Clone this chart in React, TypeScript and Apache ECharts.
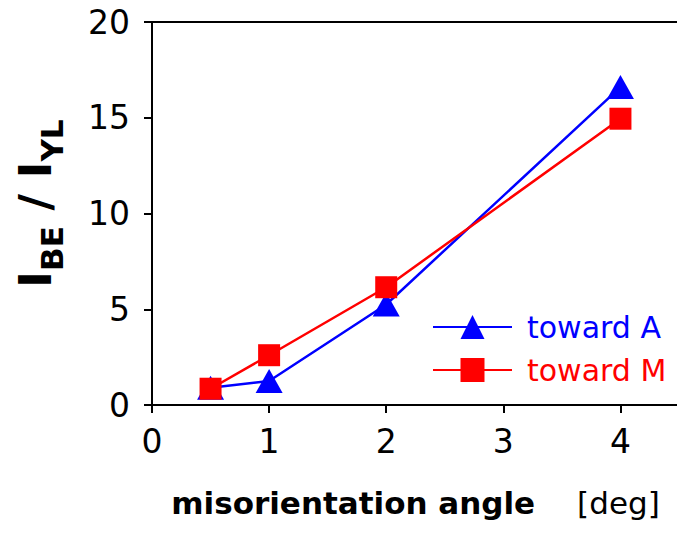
import React, { useEffect, useRef } from "react";
import * as echarts from "echarts";

const xAngles = [0.5, 1, 2, 4];
const towardA = [0.9, 1.25, 5.25, 16.6];
const towardM = [0.85, 2.6, 6.15, 14.95];
const seriesNames = ["toward A", "toward M"];

const FONT = "DejaVu Sans";

export default function App() {
  const ref = useRef<HTMLDivElement>(null);
  useEffect(() => {
    if (!ref.current) return;
    const chart = echarts.init(ref.current, null, { renderer: "svg" });
    chart.setOption({
      animation: false,
      backgroundColor: "#fff",
      grid: {
        left: 152,
        top: 22,
        bottom: 128,
        width: 527,
        outerBoundsMode: "none",
        containLabel: false,
        show: true,
        borderColor: "#000",
        borderWidth: 2,
        backgroundColor: "transparent",
      },
      xAxis: {
        type: "value",
        min: 0,
        max: 4.5,
        interval: 1,
        splitLine: { show: false },
        axisLine: { lineStyle: { color: "#000", width: 2 } },
        axisTick: { inside: false, length: 8, lineStyle: { color: "#000", width: 2 } },
        axisLabel: {
          color: "#000",
          fontFamily: FONT,
          fontSize: 33,
          margin: 20,
          formatter: (v: number) => (Number.isInteger(v) ? String(v) : ""),
        },
        name: "{b|misorientation angle}{r|[deg]}",
        nameLocation: "middle",
        nameGap: 82,
        nameTextStyle: {
          rich: {
            b: { fontFamily: FONT, fontSize: 31, fontWeight: "bold", color: "#000" },
            r: { fontFamily: FONT, fontSize: 31, color: "#000", padding: [0, 0, 0, 42] },
          },
        },
      },
      yAxis: {
        type: "value",
        min: 0,
        max: 20,
        interval: 5,
        splitLine: { show: false },
        axisLine: { lineStyle: { color: "#000", width: 2 } },
        axisTick: { inside: false, length: 8, lineStyle: { color: "#000", width: 2 } },
        axisLabel: { color: "#000", fontFamily: FONT, fontSize: 33, margin: 22 },
        name: "{b|I}{s|BE}{b| / I}{s|YL}",
        nameLocation: "middle",
        nameRotate: 90,
        nameGap: 85,
        nameTextStyle: {
          padding: [0, 0, 0, 20],
          rich: {
            b: { fontFamily: FONT, fontSize: 45, fontWeight: "bold", color: "#000", lineHeight: 54, verticalAlign: "top" },
            s: { fontFamily: FONT, fontSize: 31, fontWeight: "bold", color: "#000", lineHeight: 31, verticalAlign: "bottom" },
          },
        },
      },
      legend: {
        orient: "vertical",
        left: 432,
        top: 312,
        padding: 0,
        itemWidth: 79,
        itemHeight: 30,
        itemGap: 13,
        data: [
          { name: seriesNames[0], textStyle: { color: "#0000ff" } },
          { name: seriesNames[1], textStyle: { color: "#ff0000" } },
        ],
        textStyle: { fontFamily: FONT, fontSize: 30, padding: [0, 0, 0, 10] },
      },
      series: [
        {
          name: seriesNames[0],
          type: "line",
          data: xAngles.map((x, i) => [x, towardA[i]]),
          symbol: "triangle",
          symbolSize: [27, 24],
          lineStyle: { color: "#0000ff", width: 2.5 },
          itemStyle: { color: "#0000ff" },
        },
        {
          name: seriesNames[1],
          type: "line",
          data: xAngles.map((x, i) => [x, towardM[i]]),
          symbol: "rect",
          symbolSize: 22,
          lineStyle: { color: "#ff0000", width: 2.5 },
          itemStyle: { color: "#ff0000" },
        },
      ],
    });
    return () => chart.dispose();
  }, []);
  return (
    <div
      ref={ref}
      style={{ position: "fixed", left: 0, top: 0, width: 677, height: 533, overflow: "hidden" }}
    />
  );
}
